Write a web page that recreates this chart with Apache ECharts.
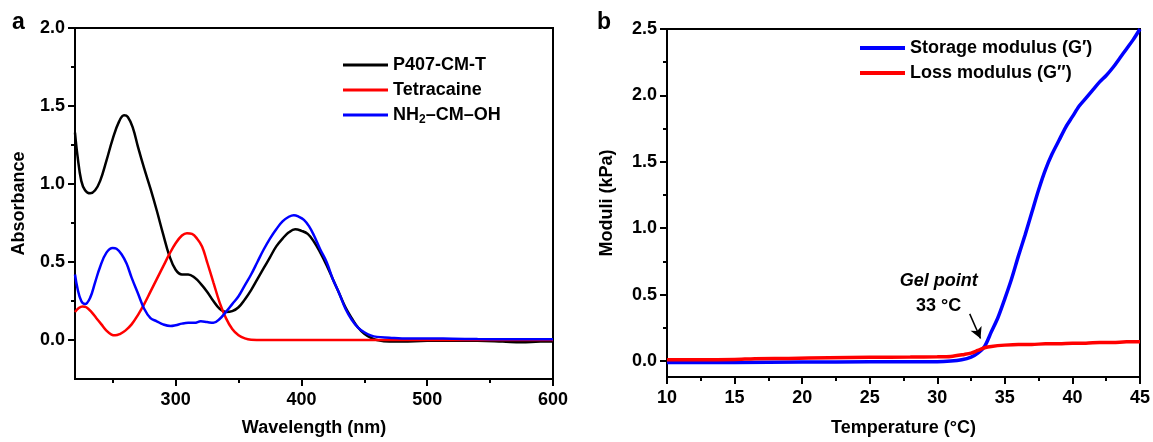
<!DOCTYPE html>
<html>
<head>
<meta charset="utf-8">
<script src="https://cdn.jsdelivr.net/npm/echarts@6.0.0/dist/echarts.min.js"></script>
<style>
  html, body { margin: 0; padding: 0; background: #fff; }
  #chart { width: 1153px; height: 442px; }
</style>
</head>
<body>
<div id="chart"></div>
<script>
// panel a - UV-vis spectra (wavelength nm, absorbance)
var wlP407 = [220, 222, 225, 228, 232, 236, 240, 245, 250, 255, 259, 262, 266, 270, 275, 280, 285, 290, 295, 300, 305, 310, 315, 320, 325, 330, 335, 340, 345, 350, 355, 360, 365, 370, 375, 380, 385, 390, 395, 400, 405, 410, 415, 420, 425, 430, 435, 440, 445, 450, 455, 460, 470, 480, 500, 520, 540, 560, 575, 590, 600];
var absP407 = [1.33, 1.18, 1.02, 0.96, 0.94, 0.96, 1.02, 1.15, 1.29, 1.40, 1.44, 1.43, 1.36, 1.24, 1.10, 0.97, 0.83, 0.68, 0.54, 0.45, 0.42, 0.42, 0.40, 0.36, 0.31, 0.25, 0.20, 0.18, 0.185, 0.21, 0.26, 0.32, 0.39, 0.46, 0.53, 0.60, 0.65, 0.69, 0.71, 0.70, 0.68, 0.63, 0.56, 0.48, 0.39, 0.30, 0.21, 0.14, 0.08, 0.04, 0.015, 0.0, -0.01, -0.01, -0.005, -0.005, -0.005, -0.01, -0.015, -0.01, -0.01];

var wlTetra = [220, 223, 226, 229, 233, 237, 241, 245, 249, 252, 256, 260, 265, 270, 275, 280, 285, 290, 295, 300, 305, 309, 313, 317, 321, 325, 330, 335, 340, 345, 350, 355, 360, 370, 400, 450, 500, 550, 600];
var absTetra = [0.18, 0.205, 0.215, 0.21, 0.18, 0.14, 0.10, 0.06, 0.035, 0.03, 0.04, 0.06, 0.10, 0.16, 0.23, 0.31, 0.39, 0.47, 0.55, 0.62, 0.67, 0.685, 0.68, 0.65, 0.60, 0.50, 0.37, 0.24, 0.14, 0.07, 0.03, 0.01, 0.002, 0, 0, 0, 0, 0, 0];

var wlNH2 = [220, 222, 225, 228, 232, 236, 240, 245, 250, 253, 257, 261, 265, 270, 275, 280, 285, 290, 296, 300, 305, 310, 315, 320, 325, 330, 335, 340, 345, 350, 355, 360, 365, 370, 375, 380, 385, 390, 394, 398, 402, 406, 410, 415, 420, 425, 430, 435, 440, 445, 450, 455, 460, 470, 480, 500, 520, 540, 560, 580, 600];
var absNH2 = [0.42, 0.33, 0.25, 0.23, 0.27, 0.37, 0.47, 0.56, 0.59, 0.585, 0.55, 0.49, 0.40, 0.30, 0.20, 0.14, 0.12, 0.10, 0.09, 0.095, 0.105, 0.11, 0.11, 0.12, 0.115, 0.11, 0.135, 0.18, 0.23, 0.28, 0.35, 0.42, 0.50, 0.58, 0.65, 0.71, 0.76, 0.79, 0.80, 0.79, 0.77, 0.73, 0.67, 0.58, 0.50, 0.39, 0.30, 0.20, 0.13, 0.08, 0.05, 0.03, 0.02, 0.015, 0.01, 0.01, 0.008, 0.006, 0.005, 0.005, 0.005];

// panel b - rheology (temperature C, kPa)
var tempStorage = [10, 15, 20, 25, 30, 31, 31.8, 32.5, 33, 33.5, 34, 34.5, 35, 35.5, 36, 36.5, 37, 37.5, 38, 38.5, 39, 39.5, 40, 40.5, 41, 41.5, 42, 42.5, 43, 43.5, 44, 44.5, 45];
var storage = [-0.01, -0.01, -0.008, -0.006, -0.005, 0.0, 0.01, 0.03, 0.06, 0.11, 0.22, 0.33, 0.47, 0.62, 0.79, 0.95, 1.12, 1.29, 1.44, 1.56, 1.66, 1.76, 1.84, 1.92, 1.98, 2.04, 2.10, 2.15, 2.21, 2.28, 2.35, 2.42, 2.5];
var tempLoss = [10, 12, 15, 16.5, 19, 22, 25, 28, 30, 31, 32, 32.5, 33, 33.5, 34, 35, 36, 37, 38, 39, 40, 41, 42, 43, 44, 45];
var loss = [0.01, 0.01, 0.012, 0.018, 0.02, 0.025, 0.028, 0.03, 0.032, 0.035, 0.05, 0.06, 0.08, 0.10, 0.11, 0.12, 0.125, 0.125, 0.13, 0.13, 0.135, 0.135, 0.14, 0.14, 0.145, 0.145];

var wlMajor = [300, 400, 500, 600];
var wlMinor = [250, 350, 450, 550];
var absMajor = [0, 0.5, 1.0, 1.5, 2.0];
var absMinor = [0.25, 0.75, 1.25, 1.75];
var modMajor = [0, 0.5, 1.0, 1.5, 2.0, 2.5];
var modMinor = [0.25, 0.75, 1.25, 1.75, 2.25];

function pares(xs, ys) {
  var out = [];
  for (var i = 0; i < xs.length; i++) out.push([xs[i], ys[i]]);
  return out;
}

var FONT = 'Liberation Sans, Arial, sans-serif';
var negro = '#000';
var txt = { color: negro, fontFamily: FONT, fontWeight: 'bold', fontSize: 18 };

function ejeMayor(gridIndex, min, max, valores, extra) {
  var eje = {
    type: 'value', gridIndex: gridIndex, min: min, max: max,
    axisLine: { show: true, onZero: false, lineStyle: { color: negro, width: 2 } },
    axisTick: { show: true, length: 7, customValues: valores, lineStyle: { color: negro, width: 2 } },
    axisLabel: Object.assign({ customValues: valores, margin: 10, formatter: function (v) { return v.toFixed(1); } }, txt),
    splitLine: { show: false }
  };
  return Object.assign(eje, extra || {});
}
function ejeMenor(gridIndex, min, max, valores, pos) {
  return {
    type: 'value', gridIndex: gridIndex, min: min, max: max, position: pos,
    axisLine: { show: false, onZero: false },
    axisTick: { show: true, length: 4, customValues: valores, lineStyle: { color: negro, width: 2 } },
    axisLabel: { show: false },
    splitLine: { show: false }
  };
}

var chart = echarts.init(document.getElementById('chart'));
chart.setOption({
  animation: false,
  backgroundColor: '#fff',
  textStyle: { fontFamily: FONT },
  grid: [
    { left: 75, top: 28, width: 478, height: 352, show: true, borderColor: negro, borderWidth: 2 },
    { left: 667, top: 29, width: 476, height: 352, show: true, borderColor: negro, borderWidth: 2 }
  ],
  title: [
    { text: 'a', left: 7, top: 6, textStyle: { color: negro, fontFamily: FONT, fontWeight: 'bold', fontSize: 23 } },
    { text: 'b', left: 592, top: 6, textStyle: { color: negro, fontFamily: FONT, fontWeight: 'bold', fontSize: 23 } }
  ],
  legend: [
    {
      left: 343, top: 56, padding: 0, orient: 'vertical', icon: 'rect', itemWidth: 45, itemHeight: 3, itemGap: 7,
      data: ['P407-CM-T', 'Tetracaine', 'NH2–CM–OH'],
      formatter: function (name) {
        if (name === 'NH2–CM–OH') return '{b|NH}{s|2}{b|–CM–OH}';
        return name;
      },
      textStyle: {
        color: negro, fontFamily: FONT, fontWeight: 'bold', fontSize: 18,
        rich: {
          b: { color: negro, fontFamily: FONT, fontWeight: 'bold', fontSize: 18 },
          s: { color: negro, fontFamily: FONT, fontWeight: 'bold', fontSize: 12, padding: [10, 0, 0, 0] }
        }
      }
    },
    {
      left: 860, top: 39, padding: 0, orient: 'vertical', icon: 'rect', itemWidth: 45, itemHeight: 4, itemGap: 7,
      data: ['Storage modulus (G\u2032)', 'Loss modulus (G\u2033)'],
      textStyle: { color: negro, fontFamily: FONT, fontWeight: 'bold', fontSize: 18 }
    }
  ],
  xAxis: [
    ejeMayor(0, 220, 600, wlMajor, {
      position: 'bottom', name: 'Wavelength (nm)', nameLocation: 'middle', nameGap: 40,
      nameTextStyle: txt,
      axisLabel: Object.assign({ customValues: wlMajor, margin: 12 }, txt)
    }),
    ejeMenor(0, 220, 600, wlMinor, 'bottom'),
    {
      type: 'value', gridIndex: 1, min: 10, max: 45, interval: 5, position: 'bottom',
      name: 'Temperature (\u00b0C)', nameLocation: 'middle', nameGap: 42, nameTextStyle: txt,
      axisLine: { show: true, onZero: false, lineStyle: { color: negro, width: 2 } },
      axisTick: { show: true, length: 7, lineStyle: { color: negro, width: 2 } },
      minorTick: { show: true, splitNumber: 2, length: 4, lineStyle: { color: negro, width: 2 } },
      axisLabel: Object.assign({ margin: 12 }, txt),
      splitLine: { show: false }
    }
  ],
  yAxis: [
    ejeMayor(0, -0.25, 2.0, absMajor, {
      position: 'left', name: 'Absorbance', nameLocation: 'middle', nameGap: 47, nameTextStyle: txt
    }),
    ejeMenor(0, -0.25, 2.0, absMinor, 'left'),
    ejeMayor(1, -0.12, 2.5, modMajor, {
      position: 'left', name: 'Moduli (kPa)', nameLocation: 'middle', nameGap: 51, nameTextStyle: txt
    }),
    ejeMenor(1, -0.12, 2.5, modMinor, 'left')
  ],
  series: [
    {
      name: 'P407-CM-T', type: 'line', xAxisIndex: 0, yAxisIndex: 0, smooth: 0.4, symbol: 'none',
      lineStyle: { color: '#000000', width: 2.5 }, itemStyle: { color: '#000000' },
      data: pares(wlP407, absP407), z: 3
    },
    {
      name: 'Tetracaine', type: 'line', xAxisIndex: 0, yAxisIndex: 0, smooth: 0.4, symbol: 'none',
      lineStyle: { color: '#ff0000', width: 2.5 }, itemStyle: { color: '#ff0000' },
      data: pares(wlTetra, absTetra), z: 4
    },
    {
      name: 'NH2–CM–OH', type: 'line', xAxisIndex: 0, yAxisIndex: 0, smooth: 0.4, symbol: 'none',
      lineStyle: { color: '#0000ff', width: 2.5 }, itemStyle: { color: '#0000ff' },
      data: pares(wlNH2, absNH2), z: 5
    },
    {
      name: 'Storage modulus (G\u2032)', type: 'line', xAxisIndex: 2, yAxisIndex: 2, smooth: 0.3, symbol: 'none',
      lineStyle: { color: '#0000ff', width: 3.5 }, itemStyle: { color: '#0000ff' },
      data: pares(tempStorage, storage), z: 3,
      markPoint: {
        symbol: 'circle', symbolSize: 0, silent: true,
        label: {
          show: true, position: 'inside', align: 'center', lineHeight: 25,
          formatter: '{i|Gel point}\n{n|33 \u00b0C}',
          rich: {
            i: { color: negro, fontFamily: FONT, fontWeight: 'bold', fontStyle: 'italic', fontSize: 18, lineHeight: 25 },
            n: { color: negro, fontFamily: FONT, fontWeight: 'bold', fontSize: 18, lineHeight: 25 }
          }
        },
        data: [{ coord: [30.1, 0.51] }]
      },
      markLine: {
        silent: true, symbol: ['none', 'arrow'], symbolSize: [9, 11],
        lineStyle: { color: negro, width: 1.5, type: 'solid' },
        label: { show: false },
        data: [[{ coord: [32.4, 0.355] }, { coord: [33.2, 0.17] }]]
      }
    },
    {
      name: 'Loss modulus (G\u2033)', type: 'line', xAxisIndex: 2, yAxisIndex: 2, smooth: 0.3, symbol: 'none',
      lineStyle: { color: '#ff0000', width: 3.5 }, itemStyle: { color: '#ff0000' },
      data: pares(tempLoss, loss), z: 4
    }
  ]
});
</script>
</body>
</html>
